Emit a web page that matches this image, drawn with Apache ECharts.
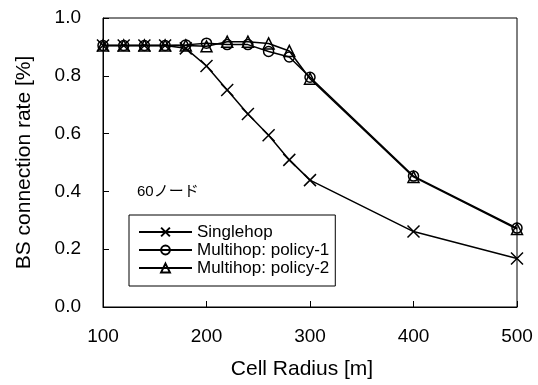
<!DOCTYPE html>
<html>
<head>
<meta charset="utf-8">
<script src="https://cdn.jsdelivr.net/npm/echarts@6/dist/echarts.min.js"></script>
<style>
  html, body { margin: 0; padding: 0; background: #fff; }
  #chart { width: 538px; height: 385px; }
</style>
</head>
<body>
<div id="chart"></div>
<script>
// セル半径 [m]
const radius = [100, 120, 140, 160, 180, 200, 220, 240, 260, 280, 300, 400, 500]
const singlehop = [0.905, 0.905, 0.905, 0.905, 0.895, 0.834, 0.751, 0.668, 0.594, 0.509, 0.439, 0.261, 0.168]
const policy1 = [0.905, 0.905, 0.905, 0.905, 0.907, 0.913, 0.908, 0.908, 0.884, 0.865, 0.795, 0.453, 0.273]
const policy2 = [0.905, 0.905, 0.905, 0.905, 0.905, 0.902, 0.918, 0.918, 0.912, 0.886, 0.790, 0.450, 0.270]
const seriesNames = ['Singlehop', 'Multihop: policy-1', 'Multihop: policy-2']

const font = 'Liberation Sans, Arial, sans-serif'
const crossPath = 'path://M0,0L10,10M10,0L0,10'

function pairs(ys) {
  return radius.map((x, i) => [x, ys[i]])
}

function lineSeries(name, ys, symbol, size) {
  return {
    name: name,
    type: 'line',
    data: pairs(ys),
    symbol: symbol,
    symbolSize: size,
    showAllSymbol: true,
    lineStyle: { color: '#000', width: 1.5 },
    itemStyle: { color: 'rgba(0,0,0,0)', borderColor: '#000', borderWidth: 1.5 },
    emphasis: { disabled: true },
    animation: false
  }
}

const chart = echarts.init(document.getElementById('chart'))
const option = {
  backgroundColor: '#fff',
  animation: false,
  grid: {
    left: 103,
    right: 21,
    top: 18,
    bottom: 78,
    show: true,
    borderColor: '#000',
    borderWidth: 1
  },
  xAxis: {
    type: 'value',
    min: 100,
    max: 500,
    interval: 100,
    name: 'Cell Radius [m]',
    nameLocation: 'middle',
    nameGap: 52,
    nameTextStyle: { fontFamily: font, fontSize: 21, color: '#000', padding: [0, 16, 0, 0] },
    axisLine: { lineStyle: { color: '#000', width: 1 } },
    axisTick: { inside: true, length: 6, lineStyle: { color: '#000' } },
    axisLabel: { fontFamily: font, fontSize: 19, color: '#000', margin: 20 },
    splitLine: { show: false }
  },
  yAxis: {
    type: 'value',
    min: 0,
    max: 1,
    interval: 0.2,
    name: 'BS connection rate [%]',
    nameLocation: 'middle',
    nameGap: 68,
    nameTextStyle: { fontFamily: font, fontSize: 21, color: '#000' },
    axisLine: { show: true, lineStyle: { color: '#000', width: 1 } },
    axisTick: { show: true, inside: true, length: 6, lineStyle: { color: '#000' } },
    axisLabel: {
      fontFamily: font, fontSize: 19, color: '#000', margin: 22,
      formatter: v => v.toFixed(1)
    },
    splitLine: { show: false }
  },
  legend: {
    data: seriesNames,
    orient: 'vertical',
    left: 129,
    top: 215,
    padding: [8, 6, 9, 9],
    itemGap: 0,
    itemWidth: 53,
    itemHeight: 11,
    borderColor: '#000',
    borderWidth: 1,
    borderRadius: 0,
    backgroundColor: '#fff',
    textStyle: { fontFamily: font, fontSize: 17, color: '#000', lineHeight: 18 }
  },
  graphic: [{
    type: 'text',
    left: 137,
    top: 184,
    style: {
      text: '60ノード',
      font: '15px "Liberation Sans", "Noto Sans CJK JP", sans-serif',
      fill: '#000'
    }
  }],
  series: [
    lineSeries(seriesNames[0], singlehop, crossPath, 12),
    lineSeries(seriesNames[1], policy1, 'circle', 10),
    lineSeries(seriesNames[2], policy2, 'triangle', 11)
  ]
}
chart.setOption(option)
</script>
</body>
</html>
